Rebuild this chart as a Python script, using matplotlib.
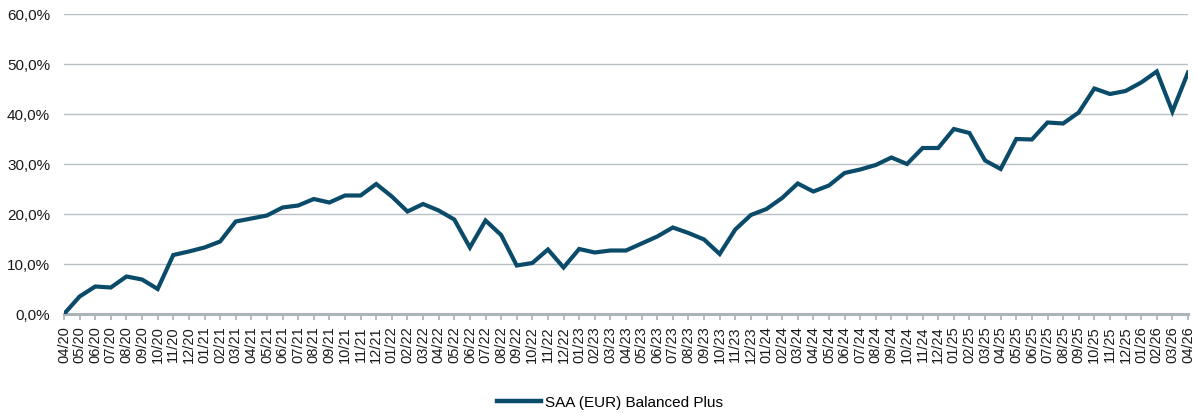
import matplotlib
matplotlib.use("Agg")
import matplotlib.pyplot as plt
from matplotlib.ticker import FuncFormatter

labels = ["04/20","05/20","06/20","07/20","08/20","09/20","10/20","11/20","12/20",
          "01/21","02/21","03/21","04/21","05/21","06/21","07/21","08/21","09/21","10/21","11/21","12/21",
          "01/22","02/22","03/22","04/22","05/22","06/22","07/22","08/22","09/22","10/22","11/22","12/22",
          "01/23","02/23","03/23","04/23","05/23","06/23","07/23","08/23","09/23","10/23","11/23","12/23",
          "01/24","02/24","03/24","04/24","05/24","06/24","07/24","08/24","09/24","10/24","11/24","12/24",
          "01/25","02/25","03/25","04/25","05/25","06/25","07/25","08/25","09/25","10/25","11/25","12/25",
          "01/26","02/26","03/26","04/26"]

values = [0.0, 3.5, 5.5, 5.3, 7.5, 6.9, 5.0, 11.8, 12.5,
          13.3, 14.5, 18.5, 19.1, 19.7, 21.3, 21.7, 23.0, 22.3, 23.7, 23.7, 26.0,
          23.5, 20.5, 22.0, 20.7, 18.9, 13.3, 18.7, 15.8, 9.7, 10.2, 12.9, 9.3,
          13.0, 12.3, 12.7, 12.7, 14.1, 15.5, 17.3, 16.2, 14.9, 12.0, 16.9, 19.8,
          21.0, 23.2, 26.1, 24.5, 25.7, 28.2, 28.9, 29.8, 31.3, 30.0, 33.2, 33.2,
          37.0, 36.2, 30.7, 29.0, 35.0, 34.9, 38.3, 38.1, 40.3, 45.1, 44.0, 44.6,
          46.3, 48.5, 40.5, 48.3]

series_name = "SAA (EUR) Balanced Plus"
y_ticks = [0, 10, 20, 30, 40, 50, 60]

plt.rcParams['font.family'] = ['Liberation Sans', 'DejaVu Sans']

fig = plt.figure(figsize=(11.96, 4.14), dpi=100)
ax = fig.add_axes([64/1196, 99/414, (1188-64)/1196, 300/414])

x = list(range(len(labels)))
line_color = "#0B4B6A"
ax.plot(x, values, color=line_color, linewidth=3.0, solid_joinstyle='miter', label=series_name, zorder=3)

ax.set_xlim(0, len(labels) - 1)
ax.set_ylim(0, 60)
ax.set_yticks(y_ticks)
ax.yaxis.set_major_formatter(FuncFormatter(lambda v, p: f"{v:.1f}%".replace(".", ",")))
ax.set_xticks(x)
ax.set_xticklabels(labels, rotation=90, fontsize=10.5, color="#1a1a1a")
ax.tick_params(axis='y', length=0, labelsize=11, pad=10, labelcolor="#1a1a1a")
ax.tick_params(axis='x', length=4, width=1.2, color="#A9B5B8", pad=4)

ax.grid(axis='y', color="#B8C0C3", linewidth=1.0, zorder=0)
for s in ['top', 'right', 'left']:
    ax.spines[s].set_visible(False)
ax.spines['bottom'].set_color("#A9B5B8")
ax.spines['bottom'].set_linewidth(2.2)
ax.spines['bottom'].set_zorder(2)

leg = fig.legend(loc='lower center', bbox_to_anchor=(0.51, -0.024), frameon=False,
                 fontsize=11, handlelength=2.9, handletextpad=0.3)
for h in leg.legend_handles:
    h.set_linewidth(3.2)

fig.savefig("out.png", dpi=100)
